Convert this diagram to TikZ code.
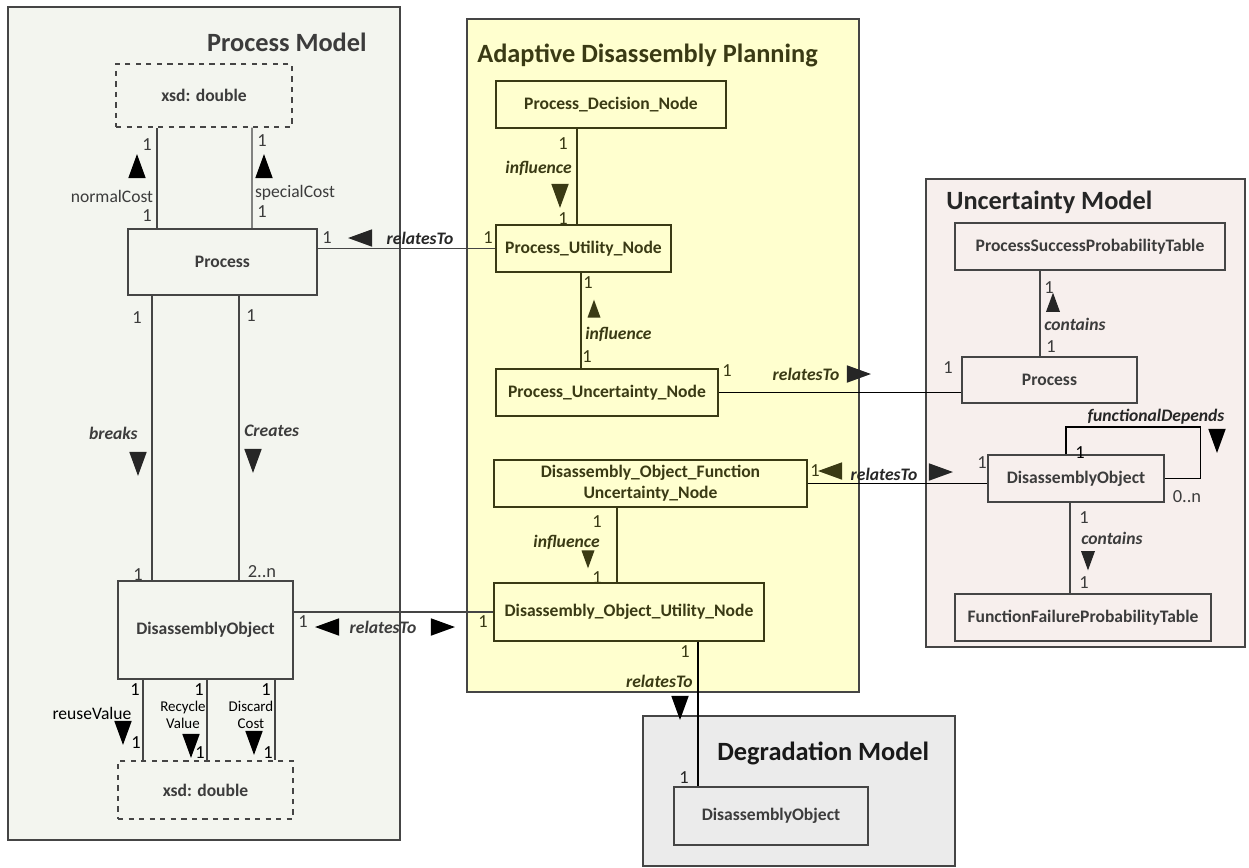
\documentclass[tikz,border=0pt]{standalone}
\usepackage{fontspec}
\setmainfont{Carlito}
\usetikzlibrary{calc,shapes.geometric}
\definecolor{frame}{HTML}{454545}
\definecolor{ink}{HTML}{3C3C3C}
\definecolor{olive}{HTML}{3A3A14}
\definecolor{processfill}{HTML}{F3F5EF}
\definecolor{planfill}{HTML}{FFFFCF}
\definecolor{uncertfill}{HTML}{F7EFED}
\definecolor{degradefill}{HTML}{EBEBEB}
\tikzset{
  panel/.style={
    draw=frame,
    fill=#1,
    line width=0.75pt,
    inner sep=0pt
  },
  heading/.style={
    font=\bfseries\fontsize{15}{18}\selectfont,
    text=#1,
    inner sep=0pt
  },
  block/.style={
    draw=#1,
    line width=0.65pt,
    inner sep=1pt,
    align=center,
    font=\bfseries\fontsize{10}{12}\selectfont
  },
  wire/.style={
    draw=#1,
    line width=0.65pt
  },
  mult/.style={font=\fontsize{10.5}{12}\selectfont, text=#1, inner sep=0pt},
  role/.style={font=\bfseries\itshape\fontsize{10}{12}\selectfont, text=#1, inner sep=0pt},
  attr/.style={font=\fontsize{10}{12}\selectfont, text=#1, inner sep=0pt, align=center},
  dir/.style={
    isosceles triangle,
    isosceles triangle apex angle=40,
    fill=#1,
    inner sep=0pt,
    minimum size=0.35cm,
    draw=none
  },
  up/.style={dir=#1, shape border rotate=90},
  down/.style={dir=#1, shape border rotate=270},
  left/.style={dir=#1, shape border rotate=180},
  right/.style={dir=#1, shape border rotate=0}
}
\begin{document}
\begin{tikzpicture}[x=0.02cm, y=-0.02cm]
  \path[use as bounding box] (0,0) rectangle (1249,867);

  % panels
  \node[panel=processfill, minimum width=7.84cm, minimum height=16.66cm] (pm) at (204,423.5) {};
  \node[panel=planfill, minimum width=7.84cm, minimum height=13.46cm] (adp) at (663,355.5) {};
  \node[panel=uncertfill, minimum width=6.38cm, minimum height=9.36cm] (um) at (1085.5,413) {};
  \node[panel=degradefill, minimum width=6.24cm, minimum height=3.0cm] (dm) at (799,791) {};

  \node[heading=ink, anchor=east] (pmtitle) at (367,42) {Process Model};
  \node[heading=olive, anchor=west] (adptitle) at (477,55) {Adaptive Disassembly Planning};
  \node[heading=black!85, anchor=west] (umtitle) at (946,202) {Uncertainty Model};
  \node[heading=black!90, anchor=west] (dmtitle) at (717,753) {Degradation Model};

  % process model
  \node[block=frame, text=ink, fill=processfill, dashed, minimum width=3.52cm, minimum height=1.26cm]
    (pmtype) at (204,95.5) {xsd: double};
  \node[block=frame, text=ink, fill=processfill, minimum width=3.78cm, minimum height=1.32cm]
    (pmprocess) at (222.5,262) {Process};
  \node[block=frame, text=ink, fill=processfill, minimum width=3.5cm, minimum height=1.96cm]
    (pmobject) at (205.5,630) {DisassemblyObject};
  \node[block=frame, text=ink, fill=processfill, dashed, minimum width=3.5cm, minimum height=1.16cm]
    (pmvalue) at (205.5,790) {xsd: double};

  % adaptive disassembly planning
  \node[block=olive, text=olive, fill=planfill, minimum width=4.6cm, minimum height=0.94cm]
    (decision) at (611,104.5) {Process\_Decision\_Node};
  \node[block=olive, text=olive, fill=planfill, minimum width=3.5cm, minimum height=0.94cm]
    (putility) at (583.5,248.5) {Process\_Utility\_Node};
  \node[block=olive, text=olive, fill=planfill, minimum width=4.44cm, minimum height=0.94cm]
    (puncert) at (607,392.5) {Process\_Uncertainty\_Node};
  \node[block=olive, text=olive, fill=planfill, minimum width=6.26cm, minimum height=0.94cm]
    (fununcert) at (650.5,483.5) {Disassembly\_Object\_Function\\Uncertainty\_Node};
  \node[block=olive, text=olive, fill=planfill, minimum width=5.4cm, minimum height=1.16cm]
    (outility) at (629,612) {Disassembly\_Object\_Utility\_Node};

  % uncertainty model
  \node[block=frame, text=ink, fill=uncertfill, minimum width=5.4cm, minimum height=0.94cm]
    (successtable) at (1090,246.5) {ProcessSuccessProbabilityTable};
  \node[block=frame, text=ink, fill=uncertfill, minimum width=3.5cm, minimum height=0.92cm]
    (umprocess) at (1049.5,380) {Process};
  \node[block=frame, text=ink, fill=uncertfill, minimum width=3.52cm, minimum height=0.94cm]
    (umobject) at (1076,478.5) {DisassemblyObject};
  \node[block=frame, text=ink, fill=uncertfill, minimum width=5.12cm, minimum height=0.94cm]
    (failuretable) at (1083,617.5) {FunctionFailureProbabilityTable};

  % degradation model
  \node[block=frame, text=ink, fill=degradefill, minimum width=3.88cm, minimum height=1.16cm]
    (dmobject) at (771,816) {DisassemblyObject};

  % connectors
  \draw[wire=frame] ($(pmprocess.north)+(-65.5,0)$) -- ($(pmtype.south)+(-47,0)$);
  \draw[wire=frame] ($(pmprocess.north)+(29.5,0)$) -- ($(pmtype.south)+(48,0)$);
  \draw[wire=frame] ($(pmprocess.south)+(-70.5,0)$) -- ($(pmobject.north)+(-53.5,0)$);
  \draw[wire=frame] ($(pmprocess.south)+(16.5,0)$) -- ($(pmobject.north)+(33.5,0)$);
  \draw[wire=frame] ($(pmobject.south)+(-62.5,0)$) -- ($(pmvalue.north)+(-62.5,0)$);
  \draw[wire=frame] ($(pmobject.south)+(1.5,0)$) -- ($(pmvalue.north)+(1.5,0)$);
  \draw[wire=frame] ($(pmobject.south)+(69.5,0)$) -- ($(pmvalue.north)+(69.5,0)$);
  \draw[wire=frame] (pmprocess.east |- putility.west) -- (putility.west);
  \draw[wire=frame] (pmobject.east |- outility.west) -- (outility.west);

  \draw[wire=olive] ($(decision.south)+(-34,0)$) -- ($(putility.north)+(-6.5,0)$);
  \draw[wire=olive] ($(putility.south)+(-2.5,0)$) -- ($(puncert.north)+(-26,0)$);
  \draw[wire=olive] ($(fununcert.south)+(-33.5,0)$) -- ($(outility.north)+(-12,0)$);
  \draw[wire=black] (puncert.east) -- (umprocess.west |- puncert.east);
  \draw[wire=black] (fununcert.east) -- (umobject.west |- fununcert.east);
  \draw[wire=black] ($(outility.south)+(69,0)$) -- ($(dmobject.north)+(-73,0)$);

  \draw[wire=frame] ($(successtable.south)+(-50,0)$) -- ($(umprocess.north)+(-9.5,0)$);
  \draw[wire=frame] ($(umobject.south)+(-6,0)$) -- ($(failuretable.north)+(-13,0)$);
  \draw[wire=black] ($(umobject.north)+(-10,0)$) |- ($(umobject.east)+(36,-51.5)$) |- (umobject.east);

  % process model labels
  \node[mult=ink] (m1) at (147,145) {1};
  \node[up=black] (t1) at (137,172) {};
  \node[attr=ink] (a1) at (112,196) {normalCost};
  \node[mult=ink] (m2) at (147,216) {1};
  \node[mult=ink] (m3) at (262,141) {1};
  \node[up=black] (t2) at (264,172) {};
  \node[attr=ink] (a2) at (295,193) {specialCost};
  \node[mult=ink] (m4) at (262,212) {1};

  \node[mult=ink] (m5) at (327,238) {1};
  \node[left=black!85] (t3) at (366,238) {};
  \node[role=black!85] (r1) at (420,238) {relatesTo};
  \node[mult=olive] (m6) at (488,238) {1};

  \node[mult=ink] (m7) at (137,318) {1};
  \node[mult=ink] (m8) at (251,316) {1};
  \node[role=ink, anchor=east] (r2) at (138,433) {breaks};
  \node[down=black!85] (t4) at (138,458) {};
  \node[role=ink, anchor=west] (r3) at (244,431) {Creates};
  \node[down=black!85] (t5) at (253,455) {};
  \node[mult=ink] (m9) at (138,575) {1};
  \node[mult=ink] (m10) at (262,572) {2..n};

  \node[mult=ink] (m11) at (303,622) {1};
  \node[left=black] (t6) at (333,627) {};
  \node[role=ink] (r4) at (383,627) {relatesTo};
  \node[right=black] (t7) at (437,627) {};
  \node[mult=olive] (m12) at (483,622) {1};

  \node[mult=black] (m13) at (135,690) {1};
  \node[mult=black] (m14) at (199,690) {1};
  \node[mult=black] (m15) at (266,690) {1};
  \node[attr=black] (a3) at (92,713) {reuseValue};
  \node[down=black] (t8) at (123,727) {};
  \node[mult=black] (m16) at (136,743) {1};
  \node[attr=black, font=\fontsize{8.5}{10}\selectfont] (a4) at (183,715) {Recycle\\Value};
  \node[down=black] (t9) at (191,740) {};
  \node[mult=black] (m17) at (200,753) {1};
  \node[attr=black, font=\fontsize{8.5}{10}\selectfont] (a5) at (251,715) {Discard\\Cost};
  \node[down=black] (t10) at (254,737) {};
  \node[mult=black] (m18) at (268,753) {1};

  % adaptive disassembly planning labels
  \node[mult=olive] (m19) at (563,144) {1};
  \node[role=olive, anchor=east] (r5) at (572,168) {influence};
  \node[down=olive] (t11) at (560,190) {};
  \node[mult=olive] (m20) at (563,219) {1};
  \node[mult=olive] (m21) at (588,283) {1};
  \node[up=olive, minimum size=0.26cm] (t12) at (594,313) {};
  \node[role=olive, anchor=west] (r6) at (585,334) {influence};
  \node[mult=olive] (m22) at (587,357) {1};

  \node[mult=olive] (m23) at (727,371) {1};
  \node[role=olive] (r7) at (806,374) {relatesTo};
  \node[right=black!85] (t13) at (853,374) {};
  \node[mult=ink] (m24) at (948,368) {1};

  \node[mult=olive] (m25) at (815,471) {1};
  \node[left=olive] (t14) at (836,471) {};
  \node[role=black!85] (r8) at (884,474) {relatesTo};
  \node[right=black!85] (t15) at (935,472) {};
  \node[mult=ink] (m26) at (982,463) {1};

  \node[mult=olive] (m27) at (597,522) {1};
  \node[role=olive, anchor=east] (r9) at (600,542) {influence};
  \node[down=olive, minimum size=0.26cm] (t16) at (588,555) {};
  \node[mult=olive] (m28) at (597,578) {1};

  \node[mult=olive] (m29) at (685,652) {1};
  \node[role=olive, anchor=east] (r10) at (693,681) {relatesTo};
  \node[down=black] (t17) at (680,702) {};
  \node[mult=black!85] (m30) at (684,778) {1};

  % uncertainty model labels
  \node[mult=ink] (m31) at (1049,288) {1};
  \node[up=black!85, minimum size=0.28cm] (t18) at (1053,307) {};
  \node[role=ink, anchor=west] (r11) at (1044,324) {contains};
  \node[mult=ink] (m32) at (1051,347) {1};

  \node[role=black!85] (r12) at (1156,417) {functionalDepends};
  \node[down=black] (t19) at (1217,435) {};
  \node[mult=black] (m33) at (1080,453) {1};
  \node[mult=ink] (m34) at (1187,497) {0..n};

  \node[mult=ink] (m35) at (1084,518) {1};
  \node[role=ink, anchor=west] (r13) at (1081,538) {contains};
  \node[down=black!85, minimum size=0.28cm] (t20) at (1088,556) {};
  \node[mult=ink] (m36) at (1084,583) {1};
\end{tikzpicture}
\end{document}
